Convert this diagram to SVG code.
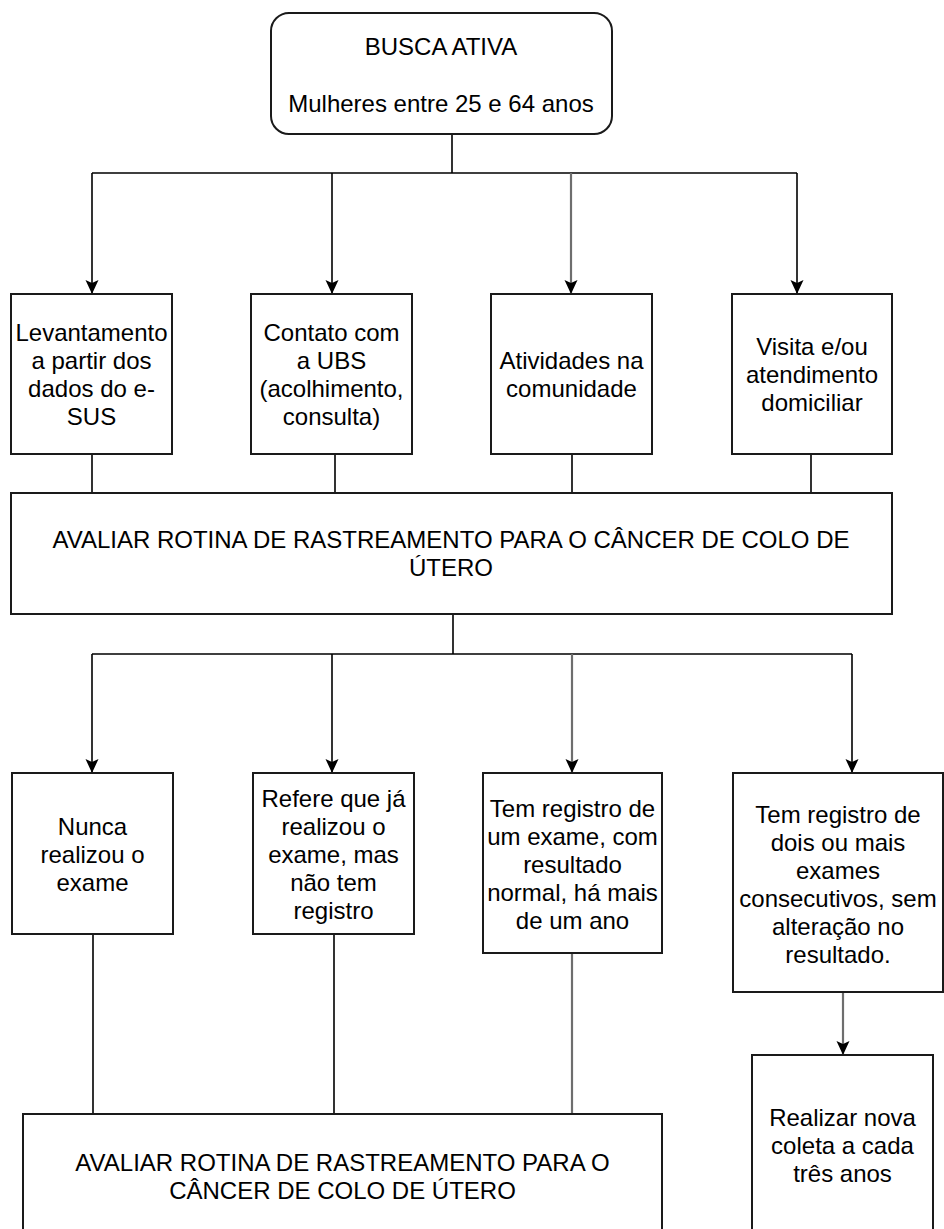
<svg xmlns="http://www.w3.org/2000/svg" width="944" height="1229" viewBox="0 0 944 1229">
<style>
.box{fill:#fff;stroke:#1a1a1a;stroke-width:2}
.t{font-family:"Liberation Sans",Arial,sans-serif;font-size:24px;fill:#000;text-anchor:middle}
.ln{fill:none;stroke:#000;stroke-width:1.6}
.lg{fill:none;stroke:#6e6e6e;stroke-width:2.2}
</style>
<defs>
<marker id="ah" markerWidth="14" markerHeight="16" refX="7" refY="14" orient="0" markerUnits="userSpaceOnUse" viewBox="0 0 14 16">
<path d="M0.5,1 L7,4 L13.5,1 L7,15 Z" fill="#000"/>
</marker>
</defs>
<rect width="944" height="1229" fill="#fff"/>
<g id="connectors">
<path class="ln" d="M452,134 V173 M92,173 H797"/>
<path class="ln" d="M92,173 V293" marker-end="url(#ah)"/>
<path class="ln" d="M332,173 V293" marker-end="url(#ah)"/>
<path class="lg" d="M571,173 V293" marker-end="url(#ah)"/>
<path class="ln" d="M797,173 V293" marker-end="url(#ah)"/>
<path class="ln" d="M92,454 V493 M335,454 V493 M572,454 V493 M811,454 V493"/>
<path class="ln" d="M453,614 V654 M92,654 H852"/>
<path class="ln" d="M92,654 V772" marker-end="url(#ah)"/>
<path class="ln" d="M332,654 V772" marker-end="url(#ah)"/>
<path class="lg" d="M572,654 V772" marker-end="url(#ah)"/>
<path class="ln" d="M852,654 V772" marker-end="url(#ah)"/>
<path class="ln" d="M93,934 V1114 M334,934 V1114"/>
<path class="lg" d="M572,953 V1114"/>
<path class="lg" d="M843,992 V1054" marker-end="url(#ah)"/>
</g>
<g id="busca">
<rect class="box" x="271" y="13" width="341" height="121" rx="18"/>
<text class="t" x="441" y="55">BUSCA ATIVA</text>
<text class="t" x="441" y="112">Mulheres entre 25 e 64 anos</text>
</g>
<g id="levantamento">
<rect class="box" x="11" y="294" width="161" height="160"/>
<text class="t" x="91.5" y="341">Levantamento<tspan x="91.5" dy="28">a partir dos</tspan><tspan x="91.5" dy="28">dados do e-</tspan><tspan x="91.5" dy="28">SUS</tspan></text>
</g>
<g id="contato">
<rect class="box" x="251" y="294" width="161" height="160"/>
<text class="t" x="331.5" y="341">Contato com<tspan x="331.5" dy="28">a UBS</tspan><tspan x="331.5" dy="28">(acolhimento,</tspan><tspan x="331.5" dy="28">consulta)</tspan></text>
</g>
<g id="atividades">
<rect class="box" x="491" y="294" width="161" height="160"/>
<text class="t" x="571.5" y="369">Atividades na<tspan x="571.5" dy="28">comunidade</tspan></text>
</g>
<g id="visita">
<rect class="box" x="732" y="294" width="160" height="160"/>
<text class="t" x="812" y="355">Visita e/ou<tspan x="812" dy="28">atendimento</tspan><tspan x="812" dy="28">domiciliar</tspan></text>
</g>
<g id="avaliar1">
<rect class="box" x="11" y="493" width="881" height="121"/>
<text class="t" x="451" y="548">AVALIAR ROTINA DE RASTREAMENTO PARA O CÂNCER DE COLO DE<tspan x="451" dy="28">ÚTERO</tspan></text>
</g>
<g id="nunca">
<rect class="box" x="12" y="773" width="161" height="161"/>
<text class="t" x="92.5" y="835">Nunca<tspan x="92.5" dy="28">realizou o</tspan><tspan x="92.5" dy="28">exame</tspan></text>
</g>
<g id="refere">
<rect class="box" x="253" y="773" width="161" height="161"/>
<text class="t" x="333.5" y="807">Refere que já<tspan x="333.5" dy="28">realizou o</tspan><tspan x="333.5" dy="28">exame, mas</tspan><tspan x="333.5" dy="28">não tem</tspan><tspan x="333.5" dy="28">registro</tspan></text>
</g>
<g id="umexame">
<rect class="box" x="483" y="773" width="179" height="180"/>
<text class="t" x="572.5" y="817">Tem registro de<tspan x="572.5" dy="28">um exame, com</tspan><tspan x="572.5" dy="28">resultado</tspan><tspan x="572.5" dy="28">normal, há mais</tspan><tspan x="572.5" dy="28">de um ano</tspan></text>
</g>
<g id="doisexames">
<rect class="box" x="733" y="773" width="210" height="219"/>
<text class="t" x="838" y="823">Tem registro de<tspan x="838" dy="28">dois ou mais</tspan><tspan x="838" dy="28">exames</tspan><tspan x="838" dy="28">consecutivos, sem</tspan><tspan x="838" dy="28">alteração no</tspan><tspan x="838" dy="28">resultado.</tspan></text>
</g>
<g id="avaliar2">
<rect class="box" x="23" y="1114" width="639" height="140"/>
<text class="t" x="342.5" y="1171">AVALIAR ROTINA DE RASTREAMENTO PARA O<tspan x="342.5" dy="28">CÂNCER DE COLO DE ÚTERO</tspan></text>
</g>
<g id="realizar">
<rect class="box" x="752" y="1055" width="181" height="200"/>
<text class="t" x="842.5" y="1126">Realizar nova<tspan x="842.5" dy="28">coleta a cada</tspan><tspan x="842.5" dy="28">três anos</tspan></text>
</g>
</svg>
